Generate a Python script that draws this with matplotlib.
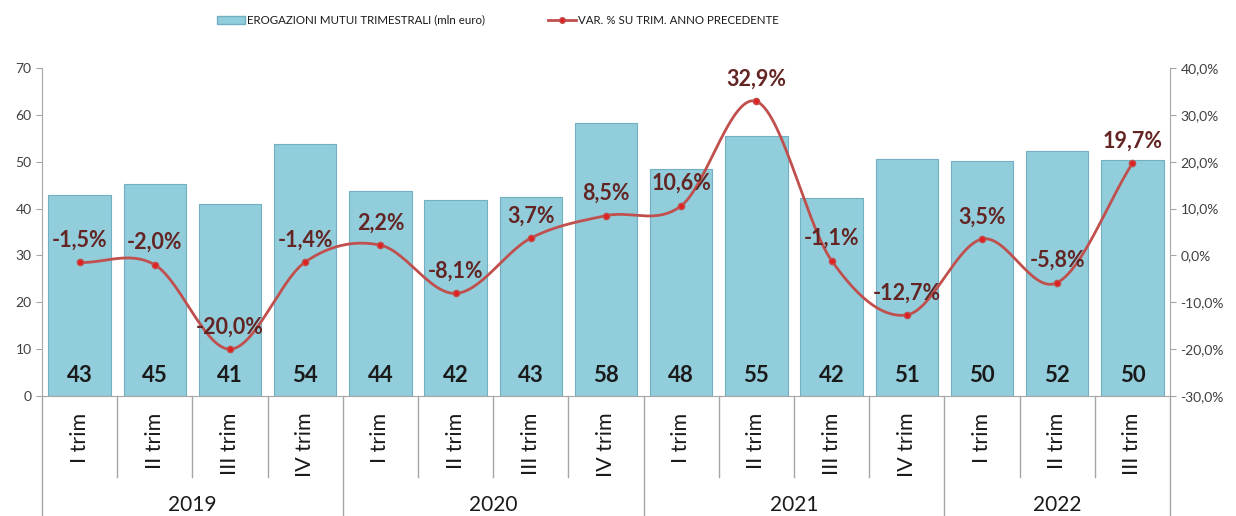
import numpy as np
import matplotlib.pyplot as plt
from matplotlib.transforms import blended_transform_factory
from matplotlib.lines import Line2D
from matplotlib.patches import Patch

plt.rcParams['font.family'] = ['Lato', 'DejaVu Sans']

# dati
trimestri = ['I trim', 'II trim', 'III trim', 'IV trim',
             'I trim', 'II trim', 'III trim', 'IV trim',
             'I trim', 'II trim', 'III trim', 'IV trim',
             'I trim', 'II trim', 'III trim']
anni = ['2019', '2020', '2021', '2022']
trim_per_anno = [4, 4, 4, 3]
erogazioni = [42.9, 45.3, 40.9, 53.8, 43.8, 41.8, 42.5, 58.3,
              48.5, 55.5, 42.2, 50.7, 50.2, 52.3, 50.4]
etichette_erog = [43, 45, 41, 54, 44, 42, 43, 58, 48, 55, 42, 51, 50, 52, 50]
var_perc = [-1.5, -2.0, -20.0, -1.4, 2.2, -8.1, 3.7, 8.5,
            10.6, 32.9, -1.1, -12.7, 3.5, -5.8, 19.7]


def catmull_rom(x, y, n=30):
    # curva smussata tipo Excel
    x = np.asarray(x, float)
    y = np.asarray(y, float)
    px = np.concatenate([[2 * x[0] - x[1]], x, [2 * x[-1] - x[-2]]])
    py = np.concatenate([[2 * y[0] - y[1]], y, [2 * y[-1] - y[-2]]])
    xs, ys = [], []
    t = np.linspace(0, 1, n)
    for i in range(1, len(px) - 2):
        for p, out in ((px, xs), (py, ys)):
            p0, p1, p2, p3 = p[i - 1], p[i], p[i + 1], p[i + 2]
            out.extend(0.5 * ((2 * p1) + (-p0 + p2) * t
                              + (2 * p0 - 5 * p1 + 4 * p2 - p3) * t ** 2
                              + (-p0 + 3 * p1 - 3 * p2 + p3) * t ** 3))
    return np.array(xs), np.array(ys)


fig = plt.figure(figsize=(12.36, 5.16), dpi=100)
ax = fig.add_axes([0.034, 0.2326, 0.9126, 0.6354])
ax2 = ax.twinx()

x = np.arange(len(erogazioni))
grigio = '#A6A6A6'
testo = '#404040'

ax.bar(x, erogazioni, width=0.83, color='#92CDDC', edgecolor='#72AFC2', linewidth=0.8, zorder=2)
for xi, v in zip(x, etichette_erog):
    ax.text(xi, 4.3, str(v), ha='center', va='center', fontsize=16, fontweight='bold', color='#1A1A1A', zorder=5)

ax.set_xlim(-0.5, len(x) - 0.5)
ax.set_ylim(0, 70)
ax.set_yticks(range(0, 71, 10))
ax.tick_params(axis='y', colors=grigio, labelcolor=testo, labelsize=10, length=4, direction='out')
ax.set_xticks(x)
ax.set_xticklabels(trimestri, rotation=90, fontsize=15.5, color='#1A1A1A', va='top')
ax.tick_params(axis='x', length=0, pad=12)

for s in ['top', 'right']:
    ax.spines[s].set_visible(False)
for s in ['top', 'left', 'bottom']:
    ax2.spines[s].set_visible(False)
ax.spines['left'].set_color(grigio)
ax.spines['bottom'].set_color(grigio)
ax2.spines['right'].set_color(grigio)

# linea variazioni
sx, sy = catmull_rom(x, var_perc)
ax2.plot(sx, sy, color='#C0504D', linewidth=2, zorder=3)
ax2.plot(x, var_perc, 'o', color='#E02020', markeredgecolor='#C0504D', markersize=4.5, zorder=4)
for xi, v in zip(x, var_perc):
    lab = f"{v:.1f}".replace('.', ',') + '%'
    ax2.annotate(lab, (xi, v), xytext=(0, 16), textcoords='offset points', ha='center', va='center',
                 fontsize=15.5, fontweight='bold', color='#632523', zorder=6)
ax2.set_ylim(-30, 40)
ax2.set_yticks(range(-30, 41, 10))
ax2.set_yticklabels([f"{t:.1f}".replace('.', ',') + '%' for t in range(-30, 41, 10)])
ax2.tick_params(axis='y', colors=grigio, labelcolor=testo, labelsize=10, length=4, direction='out')

# separatori asse categorie
tr = blended_transform_factory(ax.transData, ax.transAxes)
confini_anno = np.cumsum([0] + trim_per_anno) - 0.5
for b in np.arange(-0.5, len(x) + 0.5, 1.0):
    if b in confini_anno:
        ax.plot([b, b], [0, -0.366], transform=tr, color=grigio, linewidth=1, clip_on=False)
    else:
        ax.plot([b, b], [0, -0.247], transform=tr, color=grigio, linewidth=1, clip_on=False)
for a, lo, hi in zip(anni, confini_anno[:-1], confini_anno[1:]):
    ax.text((lo + hi) / 2, -0.332, a, transform=tr, ha='center', va='center', fontsize=15, color='#1A1A1A')

handles = [Patch(facecolor='#92CDDC', edgecolor='#72AFC2'),
           Line2D([0], [0], color='#C0504D', linewidth=2, marker='o', markerfacecolor='#E02020', markersize=4)]
fig.legend(handles, ['EROGAZIONI MUTUI TRIMESTRALI (mln euro)', 'VAR. % SU TRIM. ANNO PRECEDENTE'],
           loc='center', bbox_to_anchor=(0.403, 0.961), ncol=2, frameon=False, fontsize=8.3,
           columnspacing=5.5, handlelength=2.4, handletextpad=0.2, labelcolor='#1A1A1A')

fig.savefig('out.png', dpi=100)
